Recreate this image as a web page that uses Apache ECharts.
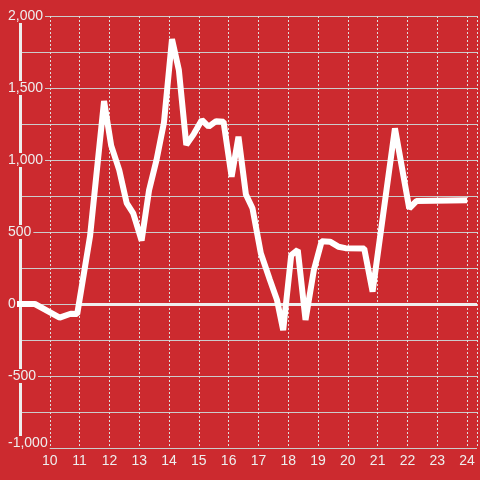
<!DOCTYPE html>
<html>
<head>
<meta charset="utf-8">
<script src="https://cdn.jsdelivr.net/npm/echarts@6/dist/echarts.min.js"></script>
<style>
html,body{margin:0;padding:0;background:#cc2a2f;}
#c{width:480px;height:480px;}
</style>
</head>
<body>
<div id="c"></div>
<script>
// Hours of day (x) and values (y)
const hours = [9.0, 9.5, 10.33, 10.7, 10.92, 11.35, 11.82, 12.06, 12.33, 12.58, 12.8, 13.08, 13.33, 13.58, 13.83, 14.1, 14.33, 14.58, 14.83, 15.1, 15.33, 15.58, 15.83, 16.1, 16.33, 16.58, 16.8, 17.08, 17.38, 17.62, 17.83, 18.1, 18.32, 18.58, 18.86, 19.12, 19.4, 19.68, 19.92, 20.55, 20.83, 21.58, 22.06, 22.3, 23.9];
const values = [0, 0, -95, -68, -70, 470, 1410, 1100, 930, 700, 630, 440, 790, 1000, 1260, 1840, 1625, 1105, 1180, 1278, 1232, 1270, 1266, 884, 1162, 760, 665, 352, 170, 30, -181, 340, 375, -111, 236, 435, 433, 398, 388, 385, 86, 1220, 664, 715, 720];
const yTicks = [-1000, -500, 0, 500, 1000, 1500, 2000];
const xTickLabels = [10, 11, 12, 13, 14, 15, 16, 17, 18, 19, 20, 21, 22, 23, 24];
const xMin = 9, xMax = 24.333;
const zeroLineStart = 10.95;

const bg = '#cc2a2f';
const chart = echarts.init(document.getElementById('c'));
chart.setOption({
  backgroundColor: bg,
  animation: false,
  grid: { left: 20, right: 0, top: 16, bottom: 32, containLabel: false },
  xAxis: {
    type: 'value', min: xMin, max: xMax, interval: 1,
    axisLine: { show: false }, axisTick: { show: false },
    axisLabel: {
      color: '#eeeeee', fontSize: 14, fontFamily: 'Liberation Sans, Arial, sans-serif', margin: 6,
      formatter: v => (xTickLabels.indexOf(Math.round(v)) >= 0 && Math.abs(v - Math.round(v)) < 1e-6) ? String(Math.round(v)) : ''
    },
    splitLine: { show: true, lineStyle: { color: '#dddddd', width: 1, type: [2, 2] } }
  },
  yAxis: {
    type: 'value', min: yTicks[0], max: yTicks[yTicks.length - 1], interval: 500,
    axisLine: { show: true, lineStyle: { color: '#eeeeee', width: 3 } },
    axisTick: { show: false },
    axisLabel: {
      color: '#eeeeee', fontSize: 14, fontFamily: 'Liberation Sans, Arial, sans-serif',
      align: 'left', margin: 12, backgroundColor: bg, padding: [0, 2, 0, 0],
      formatter: v => {
        const s = Number(v).toLocaleString('en-US');
        return v === yTicks[0] ? '{m|' + s + '}' : s;
      },
      rich: { m: { color: '#eeeeee', fontSize: 14, fontFamily: 'Liberation Sans, Arial, sans-serif', padding: [0, 0, 10, 0] } }
    },
    splitLine: { show: true, lineStyle: { color: '#cccccc', width: 1 } },
    minorTick: { show: false, splitNumber: 2 },
    minorSplitLine: { show: true, lineStyle: { color: '#cccccc', width: 1 } }
  },
  series: [
    {
      type: 'line', z: 1, data: [], silent: true,
      markLine: {
        silent: true, symbol: 'none', z: 1, label: { show: false },
        lineStyle: { color: '#eeeeee', width: 3, type: 'solid' },
        data: [[{ coord: [zeroLineStart, 0] }, { coord: [xMax, 0] }]]
      }
    },
    {
      type: 'line', z: 3, showSymbol: false, symbol: 'none',
      data: hours.map((h, i) => [h, values[i]]),
      lineStyle: { color: '#ffffff', width: 6, cap: 'square' }
    }
  ]
});
</script>
</body>
</html>
